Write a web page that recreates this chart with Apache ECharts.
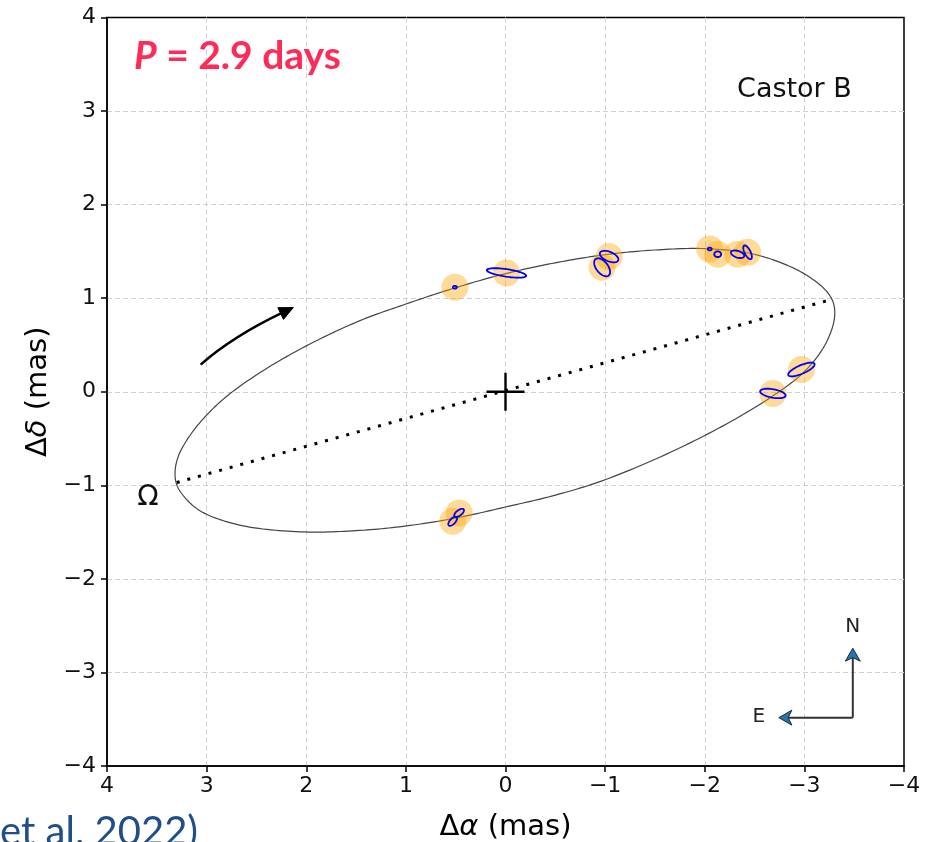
<!DOCTYPE html>
<html>
<head>
<meta charset="utf-8">
<script src="https://cdn.jsdelivr.net/npm/echarts@6/dist/echarts.min.js"></script>
<style>
html,body{margin:0;padding:0;background:#fff;}
#chart{width:926px;height:842px;}
</style>
</head>
<body>
<div id="chart"></div>
<script>
// ---- Data (mas) ----
const tickValues = [4, 3, 2, 1, 0, -1, -2, -3, -4];

// Fitted orbit (closed loop)
const orbitX = [0.0, -0.5, -1.0, -1.5, -2.0, -2.45, -2.75, -3.0, -3.2, -3.28, -3.305, -3.285, -3.185, -3.0, -2.785, -2.35, -1.71, -1.0, -0.5, 0.0, 0.5, 0.993, 1.5, 2.063, 2.63, 3.0, 3.166, 3.294, 3.317, 3.284, 3.166, 3.0, 2.80, 2.464, 2.0, 1.461, 0.993, 0.508, 0.0];
const orbitY = [1.262, 1.378, 1.465, 1.515, 1.53, 1.48, 1.385, 1.26, 1.10, 0.98, 0.86, 0.70, 0.46, 0.215, 0.03, -0.265, -0.62, -0.94, -1.105, -1.232, -1.35, -1.434, -1.485, -1.497, -1.434, -1.31, -1.19, -1.01, -0.865, -0.69, -0.465, -0.25, -0.05, 0.205, 0.49, 0.76, 0.94, 1.11, 1.262];

// Line of nodes (Omega end, opposite end)
const nodesX = [3.30, -3.25];
const nodesY = [-0.97, 0.98];

// Measured relative positions
const obsX = [0.508, -0.01, -0.97, -1.04, -2.05, -2.13, -2.33, -2.43, -2.97, -2.684, 0.53, 0.466];
const obsY = [1.117, 1.27, 1.33, 1.445, 1.525, 1.47, 1.47, 1.49, 0.238, -0.018, -1.384, -1.295];
// Error ellipses: semi-major, semi-minor (mas), orientation (deg)
const errA = [0.02, 0.20, 0.11, 0.10, 0.02, 0.035, 0.07, 0.08, 0.145, 0.13, 0.06, 0.06];
const errB = [0.015, 0.04, 0.06, 0.05, 0.015, 0.03, 0.035, 0.03, 0.045, 0.045, 0.028, 0.028];
const errTheta = [0, 9, 55, 25, 0, 0, 20, 65, -25, 11, -50, -40];

// ---- Build option ----
const nodesData = nodesX.map((x, i) => [x, nodesY[i]]);
const obsData = obsX.map((x, i) => [x, obsY[i]]);
const errData = obsX.map((x, i) => [x, obsY[i], errA[i], errB[i], errTheta[i]]);

const fmt = v => (v < 0 ? '\u2212' + (-v) : String(v));
const TICK_FONT = 'DejaVu Sans';

const chart = echarts.init(document.getElementById('chart'), null, {renderer: 'canvas'});

const axisCommon = {
  axisLine: {show: true, onZero: false, lineStyle: {color: '#000', width: 1.5}},
  axisTick: {show: true, inside: false, length: 6, lineStyle: {color: '#000', width: 1.5}},
  splitLine: {show: true, showMinLine: false, showMaxLine: false, lineStyle: {color: '#d0d0d0', type: [5, 3], width: 1}}
};
const nameRich = {
  d: {fontFamily: TICK_FONT, fontSize: 29, color: '#000'},
  i: {fontFamily: TICK_FONT, fontSize: 29, fontStyle: 'italic', color: '#000'}
};

// centripetal Catmull-Rom through a closed list of pixel points
function smoothClosed(P, steps) {
  const n = P.length, out = [];
  const lerp = (a, b, ta, tb, t) => {
    const d = tb - ta || 1e-9;
    return [(tb - t) / d * a[0] + (t - ta) / d * b[0], (tb - t) / d * a[1] + (t - ta) / d * b[1]];
  };
  const dist = (a, b) => Math.pow(Math.hypot(b[0] - a[0], b[1] - a[1]) || 1e-6, 0.5);
  for (let i = 0; i < n; i++) {
    const p0 = P[(i - 1 + n) % n], p1 = P[i], p2 = P[(i + 1) % n], p3 = P[(i + 2) % n];
    const t0 = 0, t1 = t0 + dist(p0, p1), t2 = t1 + dist(p1, p2), t3 = t2 + dist(p2, p3);
    for (let s = 0; s < steps; s++) {
      const t = t1 + (t2 - t1) * s / steps;
      const A1 = lerp(p0, p1, t0, t1, t), A2 = lerp(p1, p2, t1, t2, t), A3 = lerp(p2, p3, t2, t3, t);
      const B1 = lerp(A1, A2, t0, t2, t), B2 = lerp(A2, A3, t1, t3, t);
      out.push(lerp(B1, B2, t1, t2, t));
    }
  }
  out.push(P[0]);
  return out;
}

const option = {
  animation: false,
  backgroundColor: '#ffffff',
  grid: {
    left: 107, right: 22, top: 17.5, bottom: 76,
    show: true, borderColor: '#000', borderWidth: 1.5,
    containLabel: false, outerBoundsMode: 'none'
  },
  xAxis: Object.assign({
    type: 'value', min: -4, max: 4, interval: 1, inverse: true,
    name: '{d|\u0394}{i|\u03b1}{d| (mas)}',
    nameLocation: 'middle', nameGap: 47,
    nameTextStyle: {rich: nameRich},
    axisLabel: {formatter: fmt, fontFamily: TICK_FONT, fontSize: 22, color: '#111', margin: 9}
  }, axisCommon),
  yAxis: Object.assign({
    type: 'value', min: -4, max: 4, interval: 1,
    name: '{d|\u0394}{i|\u03b4}{d| (mas)}',
    nameLocation: 'middle', nameGap: 52, nameRotate: 90,
    nameTextStyle: {rich: nameRich},
    axisLabel: {formatter: fmt, fontFamily: TICK_FONT, fontSize: 22, color: '#111', margin: 11}
  }, axisCommon),
  graphic: [
    {
      type: 'text', left: 134, top: 37, z: 100,
      style: {
        text: '{i|P}{n| = 2.9 days}',
        rich: {
          i: {fontFamily: 'Lato', fontWeight: 'bold', fontStyle: 'italic', fontSize: 39, fill: '#FF2A56'},
          n: {fontFamily: 'Lato', fontWeight: 'bold', fontSize: 39, fill: '#FF2A56'}
        }
      }
    },
    {
      type: 'text', left: 0, top: 812, z: 100,
      style: {text: 'et al. 2022)', fontFamily: 'Lato', fontSize: 40, fill: '#1F4E8A'}
    }
  ],
  series: [
    {
      name: 'orbit', type: 'custom', data: [[orbitX[0], orbitY[0]]], z: 2, clip: false,
      encode: {x: 0, y: 1},
      renderItem: function (params, api) {
        const P = orbitX.slice(0, -1).map((x, i) => api.coord([x, orbitY[i]]));
        return {type: 'polyline', shape: {points: smoothClosed(P, 14)},
                style: {fill: 'none', stroke: '#444', lineWidth: 1.2}};
      }
    },
    {
      name: 'nodes', type: 'line', data: nodesData, showSymbol: false, symbol: 'none', z: 3,
      lineStyle: {color: '#000', width: 3, type: [3, 8], cap: 'butt'}
    },
    {
      name: 'obs', type: 'scatter', data: obsData, symbol: 'circle', symbolSize: 27, z: 4,
      itemStyle: {color: 'rgba(255,165,0,0.5)', borderWidth: 0}
    },
    {
      name: 'errors', type: 'custom', data: errData, z: 5, clip: false,
      encode: {x: 0, y: 1},
      renderItem: function (params, api) {
        const x = api.value(0), y = api.value(1), a = api.value(2), b = api.value(3);
        const th = api.value(4) * Math.PI / 180;
        const pts = [];
        for (let k = 0; k < 48; k++) {
          const t = 2 * Math.PI * k / 48;
          const dx = a * Math.cos(t) * Math.cos(th) - b * Math.sin(t) * Math.sin(th);
          const dy = a * Math.cos(t) * Math.sin(th) + b * Math.sin(t) * Math.cos(th);
          pts.push(api.coord([x + dx, y + dy]));
        }
        return {type: 'polygon', shape: {points: pts}, style: {fill: 'none', stroke: '#0000ff', lineWidth: 1.8}};
      }
    },
    {
      name: 'primary', type: 'custom', data: [[0, 0]], z: 6, clip: false,
      encode: {x: 0, y: 1},
      renderItem: function (params, api) {
        const p = api.coord([api.value(0), api.value(1)]);
        const h = 19;
        return {type: 'group', children: [
          {type: 'line', shape: {x1: p[0] - h, y1: p[1], x2: p[0] + h, y2: p[1]}, style: {stroke: '#000', lineWidth: 2.4}},
          {type: 'line', shape: {x1: p[0], y1: p[1] - h, x2: p[0], y2: p[1] + h}, style: {stroke: '#000', lineWidth: 2.4}}
        ]};
      }
    },
    {
      name: 'motion', type: 'custom', data: [[3.06, 0.29, 2.735, 0.593, 2.13, 0.90]], z: 6, clip: false,
      encode: {x: 0, y: 1},
      renderItem: function (params, api) {
        const p0 = api.coord([api.value(0), api.value(1)]);
        const c = api.coord([api.value(2), api.value(3)]);
        const p1 = api.coord([api.value(4), api.value(5)]);
        const dx = p1[0] - c[0], dy = p1[1] - c[1], L = Math.hypot(dx, dy);
        const ux = dx / L, uy = dy / L, hl = 14, hw = 6.5;
        const bx = p1[0] - ux * hl, by = p1[1] - uy * hl;
        return {type: 'group', children: [
          {type: 'bezierCurve', shape: {x1: p0[0], y1: p0[1], cpx1: c[0], cpy1: c[1], x2: bx + ux * 2, y2: by + uy * 2},
           style: {stroke: '#000', fill: 'none', lineWidth: 2.5}},
          {type: 'polygon', shape: {points: [p1, [bx - uy * hw, by + ux * hw], [bx + uy * hw, by - ux * hw]]},
           style: {fill: '#000', stroke: '#000', lineWidth: 1}}
        ]};
      }
    },
    {
      name: 'compass', type: 'custom', data: [[-3.486, -3.483, 0.742]], z: 6, clip: false,
      encode: {x: 0, y: 1},
      renderItem: function (params, api) {
        const x = api.value(0), y = api.value(1), len = api.value(2);
        const c = api.coord([x, y]);
        const n = api.coord([x, y + len]);
        const e = api.coord([x + len, y]);
        function head(tip, ux, uy) {
          const hl = 13, hw = 7.5;
          const bx = tip[0] - ux * hl, by = tip[1] - uy * hl;
          const nx = tip[0] - ux * hl * 0.72, ny = tip[1] - uy * hl * 0.72;
          return {type: 'polygon', shape: {points: [tip, [bx - uy * hw, by + ux * hw], [nx, ny], [bx + uy * hw, by - ux * hw]]},
                  style: {fill: '#2874ad', stroke: '#1a2a3a', lineWidth: 1}};
        }
        return {type: 'group', children: [
          {type: 'line', shape: {x1: c[0], y1: c[1], x2: n[0], y2: n[1] + 9}, style: {stroke: '#333', lineWidth: 2}},
          {type: 'line', shape: {x1: c[0], y1: c[1], x2: e[0] + 9, y2: e[1]}, style: {stroke: '#333', lineWidth: 2}},
          head(n, 0, -1),
          head(e, -1, 0),
          {type: 'text', style: {text: 'N', x: n[0], y: n[1] - 21, align: 'center', verticalAlign: 'middle',
            fontFamily: TICK_FONT, fontSize: 20, fill: '#222'}},
          {type: 'text', style: {text: 'E', x: e[0] - 20, y: e[1] - 1, align: 'center', verticalAlign: 'middle',
            fontFamily: TICK_FONT, fontSize: 20, fill: '#222'}}
        ]};
      }
    },
    {
      name: 'labels', type: 'custom', data: [[-2.9, 3.23, 0], [3.59, -1.13, 1]], z: 6, clip: false,
      encode: {x: 0, y: 1},
      renderItem: function (params, api) {
        const texts = ['Castor B', '\u03a9'];
        const sizes = [27, 28];
        const p = api.coord([api.value(0), api.value(1)]);
        const i = api.value(2);
        return {type: 'text', style: {text: texts[i], x: p[0], y: p[1], align: 'center', verticalAlign: 'middle',
          fontFamily: TICK_FONT, fontSize: sizes[i], fill: '#111'}};
      }
    }
  ]
};
chart.setOption(option);
</script>
</body>
</html>
